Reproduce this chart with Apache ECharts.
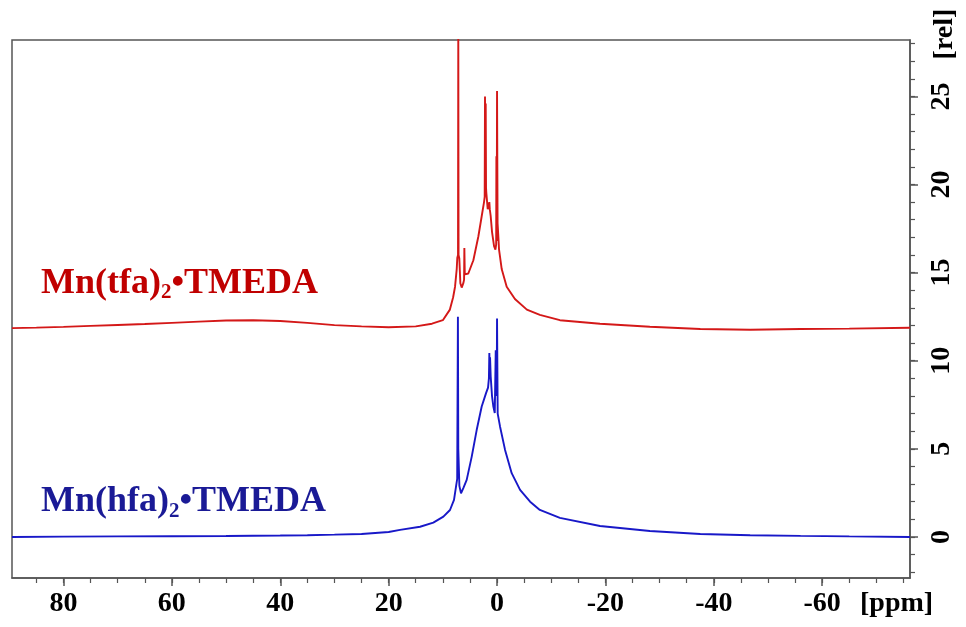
<!DOCTYPE html>
<html><head><meta charset="utf-8">
<script src="https://cdn.jsdelivr.net/npm/echarts@6/dist/echarts.min.js"></script>
<style>html,body{margin:0;padding:0;background:#fff}#c{width:966px;height:627px}</style>
</head><body><div id="c"></div>
<script>
// tick labels / ticks
const xMajorTicks = [80, 60, 40, 20, 0, -20, -40, -60];
const xMinorTicks = [85, 80, 75, 70, 65, 60, 55, 50, 45, 40, 35, 30, 25, 20, 15, 10, 5, 0, -5, -10, -15, -20, -25, -30, -35, -40, -45, -50, -55, -60, -65, -70, -75];
const yMajorTicks = [0, 5, 10, 15, 20, 25];
const yMinorTicks = [-2, -1, 0, 1, 2, 3, 4, 5, 6, 7, 8, 9, 10, 11, 12, 13, 14, 15, 16, 17, 18, 19, 20, 21, 22, 23, 24, 25, 26, 27, 28];
const seriesNames = ['Mn(tfa)2•TMEDA', 'Mn(hfa)2•TMEDA'];

// Mn(tfa)2•TMEDA (red, displayed with its offset)
const redPpm = [89.5, 85, 80, 75, 70, 65, 60, 55, 50, 45, 40, 35, 30, 25, 20, 15, 12, 10, 8.7, 8.1, 7.75, 7.44, 7.33, 7.2, 7.15, 7.1, 6.96, 6.77, 6.52, 6.22, 6.08, 6.03, 5.95, 5.85, 5.3, 4.37, 3.45, 2.83, 2.4, 2.28, 2.22, 2.15, 2.09, 2.03, 1.97, 1.72, 1.5, 1.42, 1.34, 1.17, 0.92, 0.55, 0.3, 0.16, 0.12, 0.06, 0.0, -0.1, -0.25, -0.37, -0.86, -1.78, -3.3, -5.5, -7.9, -11.6, -19, -28.2, -37.5, -46.7, -56, -65, -76.2];
const redVal = [11.85, 11.88, 11.92, 11.98, 12.03, 12.08, 12.15, 12.22, 12.28, 12.3, 12.25, 12.15, 12.02, 11.95, 11.9, 11.95, 12.1, 12.3, 12.9, 13.6, 14.2, 15.2, 15.85, 16.0, 29, 16.0, 15.8, 14.4, 14.15, 14.4, 14.6, 16.4, 14.9, 14.8, 14.95, 15.7, 17.05, 18.2, 19.0, 19.3, 25.0, 19.6, 24.6, 19.8, 19.5, 18.6, 18.7, 19.0, 18.6, 18.2, 17.3, 16.5, 16.3, 16.6, 21.6, 16.8, 25.3, 17.8, 17.0, 16.3, 15.2, 14.2, 13.5, 12.9, 12.6, 12.3, 12.1, 11.93, 11.8, 11.76, 11.8, 11.82, 11.87];

// Mn(hfa)2•TMEDA (blue)
const bluePpm = [89.5, 80, 70, 60, 50, 40, 35, 30, 25, 20, 17.9, 14.2, 11.76, 9.9, 8.68, 7.94, 7.57, 7.35, 7.22, 7.15, 7.02, 6.95, 6.65, 6.22, 5.6, 4.67, 3.75, 2.83, 2.03, 1.66, 1.5, 1.42, 1.36, 1.29, 1.17, 0.92, 0.68, 0.42, 0.3, 0.24, 0.16, 0.06, 0.0, -0.12, -0.55, -1.48, -2.7, -4.25, -6.1, -7.9, -11.6, -19, -28.2, -37.5, -46.7, -56, -65, -76.2];
const blueVal = [0.0, 0.02, 0.03, 0.04, 0.05, 0.08, 0.1, 0.13, 0.17, 0.28, 0.4, 0.58, 0.81, 1.15, 1.53, 2.1, 2.86, 3.3, 12.5, 5.0, 5.0, 2.9, 2.48, 2.77, 3.24, 4.56, 6.08, 7.4, 8.16, 8.47, 9.0, 10.44, 9.4, 10.2, 9.1, 7.97, 7.4, 7.03, 7.1, 10.6, 8.6, 8.0, 12.4, 7.0, 6.27, 4.94, 3.62, 2.67, 2.0, 1.53, 1.08, 0.62, 0.34, 0.17, 0.1, 0.06, 0.03, 0.0];

const X_MIN = -76.2, X_MAX = 89.5, Y_MIN = -2.33, Y_MAX = 28.2;
const AX = '#555';
const labelFont = {fontFamily: 'Liberation Serif', fontWeight: 'bold', fontSize: 28, color: '#000'};

function pairs(xs, ys) { return xs.map((x, i) => [x, ys[i]]); }

const chart = echarts.init(document.getElementById('c'), null, {renderer: 'canvas'});
chart.setOption({
  animation: false,
  backgroundColor: '#fff',
  grid: {left: 12, right: 56, top: 40, bottom: 49, show: true, borderColor: AX, borderWidth: 1.5, backgroundColor: 'transparent'},
  xAxis: [
    {type: 'value', inverse: true, min: X_MIN, max: X_MAX, position: 'bottom',
     axisLine: {show: true, onZero: false, lineStyle: {color: AX, width: 1.5}},
     axisTick: {show: true, customValues: xMajorTicks, length: 8, lineStyle: {color: AX, width: 1.5}},
     axisLabel: Object.assign({customValues: xMajorTicks, margin: 12}, labelFont),
     splitLine: {show: false}},
    {type: 'value', inverse: true, min: X_MIN, max: X_MAX, position: 'bottom',
     axisLine: {show: false, onZero: false},
     axisTick: {show: true, customValues: xMinorTicks, length: 5, lineStyle: {color: AX, width: 1.2}},
     axisLabel: {show: false}, splitLine: {show: false}}
  ],
  yAxis: [
    {type: 'value', min: Y_MIN, max: Y_MAX, position: 'right',
     axisLine: {show: true, onZero: false, lineStyle: {color: AX, width: 1.5}},
     axisTick: {show: true, customValues: yMajorTicks, length: 8, lineStyle: {color: AX, width: 1.5}},
     axisLabel: Object.assign({customValues: yMajorTicks, margin: 18, rotate: 90}, labelFont),
     splitLine: {show: false}},
    {type: 'value', min: Y_MIN, max: Y_MAX, position: 'right',
     axisLine: {show: false, onZero: false},
     axisTick: {show: true, customValues: yMinorTicks, length: 5, lineStyle: {color: AX, width: 1.2}},
     axisLabel: {show: false}, splitLine: {show: false}}
  ],
  series: [
    {name: seriesNames[0], type: 'line', data: pairs(redPpm, redVal), showSymbol: false, symbol: 'none', clip: true,
     lineStyle: {color: '#d41818', width: 1.9}, xAxisIndex: 0, yAxisIndex: 0},
    {name: seriesNames[1], type: 'line', data: pairs(bluePpm, blueVal), showSymbol: false, symbol: 'none', clip: true,
     lineStyle: {color: '#1818c8', width: 1.9}, xAxisIndex: 0, yAxisIndex: 0}
  ],
  graphic: [
    {type: 'text', left: 860, top: 590, style: {text: '[ppm]', font: 'bold 28px "Liberation Serif"', fill: '#000'}},
    {type: 'text', x: 945, y: 34, rotation: Math.PI / 2, style: {text: '[rel]', font: 'bold 28px "Liberation Serif"', fill: '#000', align: 'center', verticalAlign: 'middle'}},
    {type: 'text', x: 41, y: 283.5, style: {
      text: '{a|Mn(tfa)}{s|2}{a|•TMEDA}', verticalAlign: 'middle', align: 'left',
      rich: {a: {fontFamily: 'Liberation Serif', fontWeight: 'bold', fontSize: 36, lineHeight: 40, fill: '#c00000'},
             s: {fontFamily: 'Liberation Serif', fontWeight: 'bold', fontSize: 21, lineHeight: 20, verticalAlign: 'bottom', fill: '#c00000'}}}},
    {type: 'text', x: 41, y: 502, style: {
      text: '{a|Mn(hfa)}{s|2}{a|•TMEDA}', verticalAlign: 'middle', align: 'left',
      rich: {a: {fontFamily: 'Liberation Serif', fontWeight: 'bold', fontSize: 36, lineHeight: 40, fill: '#1a1a96'},
             s: {fontFamily: 'Liberation Serif', fontWeight: 'bold', fontSize: 21, lineHeight: 20, verticalAlign: 'bottom', fill: '#1a1a96'}}}}
  ]
});
</script></body></html>
